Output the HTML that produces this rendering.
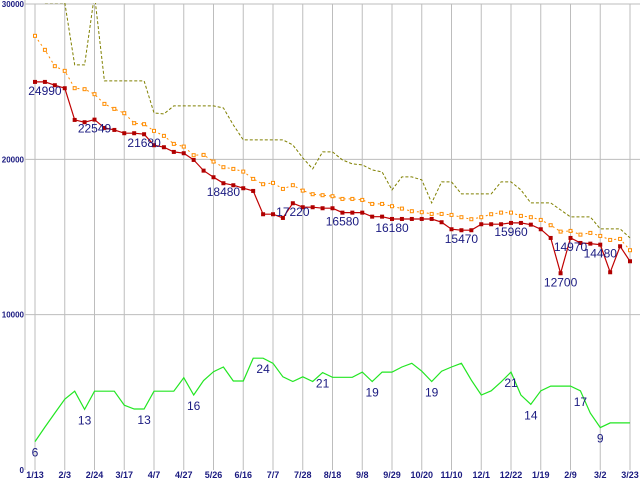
<!DOCTYPE html>
<html><head><meta charset="utf-8"><style>
html,body{margin:0;padding:0;background:#fff;}
svg{display:block;}
text{font-family:"Liberation Sans",sans-serif;}
</style></head><body>
<svg id="chart" width="640" height="480" viewBox="0 0 640 480" xmlns="http://www.w3.org/2000/svg">
<defs><clipPath id="plotclip"><rect x="25" y="3" width="615" height="468"/></clipPath></defs>
<g id="grid"></g>
<g id="series" clip-path="url(#plotclip)"></g>
<g id="labels"></g>
</svg>
<script>
const xTickLabels = ["1/13","2/3","2/24","3/17","4/7","4/27","5/26","6/16","7/7","7/28","8/18","9/8","9/29","10/20","11/10","12/1","12/22","1/19","2/9","3/2","3/23"];
const yTicks = [0,10000,20000,30000];
const redSeries = [24984,24984,24771,24578,22537,22389,22556,22022,21893,21681,21681,21616,20908,20779,20477,20393,19961,19272,18847,18461,18332,18139,17965,16465,16465,16227,17173,16916,16916,16851,16851,16568,16568,16568,16310,16310,16162,16162,16162,16162,16162,15950,15499,15435,15435,15821,15821,15821,15905,15905,15795,15499,14939,12665,14939,14617,14572,14507,12730,14404,13438];
const orangeSeries = [27950,27048,25998,25696,24581,24517,24195,23570,23248,22971,22327,22263,21832,21510,20994,20821,20267,20286,19855,19494,19384,19211,18740,18399,18483,18096,18335,17987,17755,17691,17626,17452,17452,17388,17130,17130,16982,16828,16660,16596,16486,16486,16422,16274,16145,16274,16467,16570,16570,16358,16274,16100,15759,15347,15392,15153,15263,15070,14812,14876,14149];
const oliveSeries = [null,30075,30075,30075,26082,26082,30590,25052,25052,25052,25052,25052,22991,22926,23442,23442,23442,23442,23442,23313,22218,21252,21252,21252,21252,21252,20930,20093,19384,20479,20479,19964,19706,19642,19320,19191,18032,18869,18869,18676,17195,18547,18547,17774,17774,17774,17774,18547,18547,18032,17195,17195,17195,16744,16293,16293,16293,15520,15520,15520,14941];
const greenSeries = [6.1,9.2,12.2,15.2,16.9,13.0,16.9,16.9,16.9,13.9,13.1,13.1,16.9,16.9,16.9,19.8,16.1,19.2,21.1,22.1,19.1,19.1,24.0,24.0,22.9,20.0,19.0,20.0,19.0,20.9,19.9,19.9,19.9,21.0,19.0,21.0,21.0,22.1,22.9,21.2,19.0,21.2,22.1,22.9,19.3,16.1,17.0,18.9,21.0,16.1,14.1,17.0,18.0,18.0,18.0,17.0,12.2,9.1,10.1,10.1,10.1];
const redLabelIdx = [1,6,11,19,26,31,36,43,48,54,53,57];
const redLabelText = ["24990","22549","21680","18480","17220","16580","16180","15470","15960","14970","12700","14480"];
const greenLabelIdx = [0,5,11,16,23,29,34,40,48,50,55,57];
const greenLabelText = ["6","13","13","16","24","21","19","19","21","14","17","9"];
const greenScale = 300;

const NS="http://www.w3.org/2000/svg";
const X0=35, DX=595/60, YB=470, YT=4, YMAX=30000;
function xPos(i){return X0+i*DX;}
function yPos(v){return YB-(v/YMAX)*(YB-YT);}
function mk(tag,attrs,parent){const e=document.createElementNS(NS,tag);for(const k in attrs)e.setAttribute(k,attrs[k]);parent.appendChild(e);return e;}
const grid=document.getElementById('grid'), ser=document.getElementById('series'), lab=document.getElementById('labels');

xTickLabels.forEach((t,k)=>{
  const x=xPos(k*3);
  const l=mk('line',{x1:x,y1:YT,x2:x,y2:YB,stroke:'#bdbdbd','stroke-width':1},grid);
  
  
  const tx=mk('text',{x:x,y:478,'font-size':9,'font-weight':'bold',fill:'#1a1a80','text-anchor':'middle'},grid);
  tx.textContent=t;
  
  
});
yTicks.forEach(v=>{
  const y=yPos(v);
  if(v>0){
    const l=mk('line',{x1:25,y1:y,x2:640,y2:y,stroke:'#bdbdbd','stroke-width':1},grid);
    
    
  }
  const tx=mk('text',{x:24,y:Math.min(y+3,473),'font-size':8,'font-weight':'bold',fill:'#1a1a80','text-anchor':'end'},grid);
  tx.textContent=String(v);
  
  
});
const ax=mk('line',{x1:25,y1:0,x2:25,y2:YB,stroke:'#bdbdbd','stroke-width':1},grid);



function pathFrom(arr,scale){
  let d='',started=false;
  arr.forEach((v,i)=>{if(v==null){started=false;return;}d+=(started?'L':'M')+xPos(i).toFixed(1)+','+yPos(v*scale).toFixed(1);started=true;});
  return d;
}
const ol=mk('path',{d:pathFrom(oliveSeries,1),fill:'none',stroke:'#808000','stroke-width':1,'stroke-dasharray':'3,2'},ser);


const orl=mk('path',{d:pathFrom(orangeSeries,1),fill:'none',stroke:'#ff8c00','stroke-width':1,'stroke-dasharray':'2,3'},ser);


orangeSeries.forEach((v,i)=>{
  const r=mk('rect',{x:xPos(i)-1.5,y:yPos(v)-1.5,width:3,height:3,fill:'#fff',stroke:'#ff8c00','stroke-width':1},ser);
  
  
});
const rl=mk('path',{d:pathFrom(redSeries,1),fill:'none',stroke:'#c00000','stroke-width':1.2},ser);


redSeries.forEach((v,i)=>{
  const r=mk('rect',{x:xPos(i)-2,y:yPos(v)-2,width:4,height:4,fill:'#b00000'},ser);
  
  
});
const gl=mk('path',{d:pathFrom(greenSeries,greenScale),fill:'none',stroke:'#22e622','stroke-width':1.2},ser);



redLabelIdx.forEach((idx,k)=>{
  const t=mk('text',{x:xPos(idx),y:yPos(redSeries[idx])+13,'font-size':12,fill:'#1a1a80','text-anchor':'middle'},lab);
  t.textContent=redLabelText[k];
  
  
});
greenLabelIdx.forEach((idx,k)=>{
  const t=mk('text',{x:xPos(idx),y:yPos(greenSeries[idx]*greenScale)+15,'font-size':12,fill:'#1a1a80','text-anchor':'middle'},lab);
  t.textContent=greenLabelText[k];
  
  
});
</script>
</body></html>
